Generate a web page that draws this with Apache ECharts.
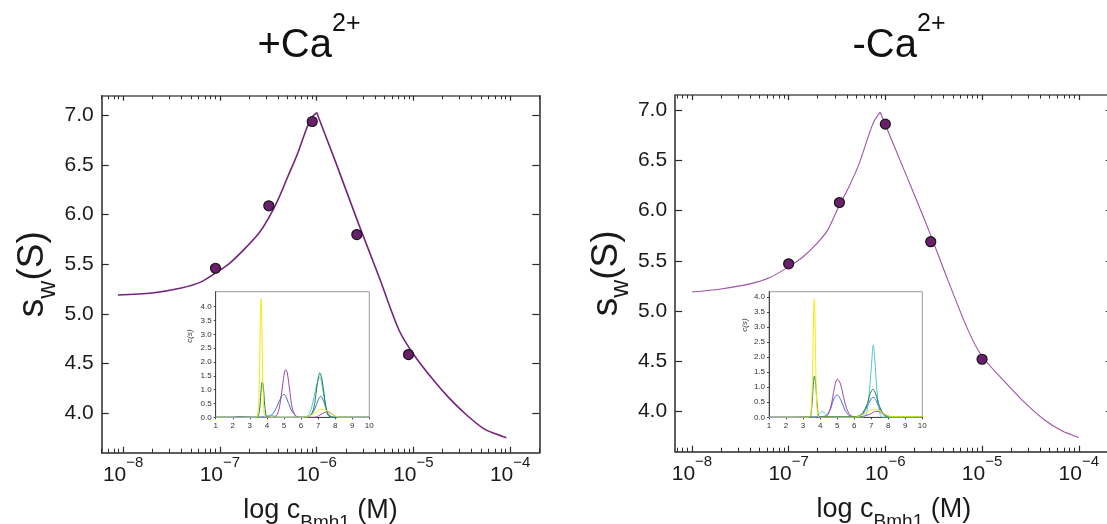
<!DOCTYPE html>
<html><head><meta charset="utf-8">
<script src="https://cdn.jsdelivr.net/npm/echarts@6/dist/echarts.min.js"></script>
<style>html,body{margin:0;padding:0;background:#fff}#c{width:1107px;height:524px}</style>
</head><body><div id="c"></div>
<script>
// ---------- DATA ----------
const panelTitles = ['+Ca', '-Ca'];
const titleSup = '2+';
const xTickExponents = [-8, -7, -6, -5, -4];
const yTickValues = [4.0, 4.5, 5.0, 5.5, 6.0, 6.5, 7.0];
const insetXTicks = [1, 2, 3, 4, 5, 6, 7, 8, 9, 10];
const insetYTicksL = [0, 0.5, 1.0, 1.5, 2.0, 2.5, 3.0, 3.5, 4.0];
const insetYTicksR = [0, 0.5, 1.0, 1.5, 2.0, 2.5, 3.0, 3.5, 4.0];

// measured points (concentration in M, sedimentation coefficient s_w in S)
const concPlusCa = [9.0e-8, 3.2e-7, 9.0e-7, 2.6e-6, 8.9e-6];
const swPlusCa   = [5.46, 6.09, 6.94, 5.80, 4.59];
const concMinusCa = [1.0e-7, 3.35e-7, 1.0e-6, 2.95e-6, 1.0e-5];
const swMinusCa   = [5.47, 6.08, 6.86, 5.69, 4.52];

// fitted curves (log10 concentration, s_w): rising branch and falling branch
const fitRiseLogPlusCa = [-8.055, -7.7, -7.4, -7.2, -7.05, -6.9, -6.75, -6.6, -6.5, -6.4, -6.3, -6.2, -6.1, -6.05, -6.0];
const fitRiseSwPlusCa  = [5.19, 5.21, 5.26, 5.32, 5.41, 5.51, 5.65, 5.81, 5.96, 6.15, 6.38, 6.61, 6.88, 6.98, 7.03];
const fitFallLogPlusCa = [-6.0, -5.8, -5.56, -5.35, -5.146, -4.99, -4.8, -4.63, -4.45, -4.27, -4.15, -4.04];
const fitFallSwPlusCa  = [7.03, 6.52, 5.89, 5.36, 4.83, 4.58, 4.34, 4.15, 3.98, 3.84, 3.79, 3.75];
const fitRiseLogMinusCa = [-8.0, -7.7, -7.4, -7.2, -7.0, -6.85, -6.72, -6.6, -6.486, -6.37, -6.27, -6.126, -6.054];
const fitRiseSwMinusCa  = [5.19, 5.22, 5.27, 5.33, 5.44, 5.54, 5.66, 5.80, 6.03, 6.25, 6.47, 6.87, 6.98];
const fitFallLogMinusCa = [-6.054, -5.8, -5.57, -5.35, -5.14, -5.0, -4.74, -4.55, -4.36, -4.18, -4.0];
const fitFallSwMinusCa  = [6.98, 6.39, 5.85, 5.30, 4.80, 4.55, 4.27, 4.08, 3.92, 3.81, 3.74];

// inset c(s) distributions, [s, c(s)]
const csPlusYellow = [[1,0],[3.3,0],[3.45,0.05],[3.55,1.2],[3.62,3.6],[3.66,4.28],[3.7,3.5],[3.77,1.0],[3.85,0.1],[3.95,0],[6.2,0],[6.6,0.08],[6.9,0.2],[7.2,0.29],[7.45,0.26],[7.7,0.15],[8.0,0.05],[8.3,0],[10,0]];
const csPlusGreen = [[1,0],[3.4,0],[3.55,0.2],[3.65,0.9],[3.72,1.27],[3.78,1.2],[3.85,0.6],[3.95,0.05],[4.05,0],[6.3,0],[6.6,0.1],[6.8,0.5],[6.95,1.2],[7.1,1.6],[7.25,1.3],[7.4,0.6],[7.55,0.15],[7.7,0.02],[8,0],[10,0]];
const csPlusPurple = [[1,0],[4.3,0],[4.6,0.1],[4.8,0.6],[4.95,1.3],[5.1,1.72],[5.2,1.6],[5.35,0.9],[5.5,0.3],[5.7,0.03],[5.9,0],[6.8,0],[7.1,0.08],[7.4,0.18],[7.6,0.2],[7.85,0.1],[8.2,0],[10,0]];
const csPlusBlue = [[1,0],[2.0,0],[2.3,0.03],[2.8,0.02],[3.2,0],[4.0,0.02],[4.3,0.1],[4.6,0.4],[4.85,0.75],[5.0,0.83],[5.15,0.7],[5.4,0.3],[5.7,0.05],[6.0,0],[6.5,0.05],[6.8,0.3],[7.0,0.62],[7.15,0.76],[7.3,0.62],[7.5,0.25],[7.7,0.05],[8,0],[10,0]];
const csPlusCyan = [[1,0],[3.8,0],[4.05,0.06],[4.3,0.07],[4.5,0.02],[4.8,0],[6.2,0],[6.5,0.15],[6.75,0.7],[6.95,1.25],[7.1,1.45],[7.25,1.1],[7.45,0.35],[7.6,0.05],[7.8,0],[10,0]];

const csMinusYellow = [[1,0],[3.3,0],[3.45,0.1],[3.55,1.4],[3.62,3.5],[3.66,3.92],[3.7,3.2],[3.78,0.8],[3.87,0.05],[4,0],[6.0,0],[6.5,0.08],[6.9,0.22],[7.2,0.27],[7.5,0.22],[7.8,0.1],[8.2,0.02],[10,0.02]];
const csMinusGreen = [[1,0],[3.35,0],[3.5,0.3],[3.6,1.1],[3.67,1.37],[3.75,1.05],[3.85,0.3],[4.0,0.02],[5.8,0.02],[6.3,0.05],[6.7,0.35],[6.95,0.8],[7.1,0.93],[7.25,0.8],[7.5,0.35],[7.8,0.08],[8.2,0.02],[10,0.02]];
const csMinusPurple = [[1,0],[2.5,0],[3,0.01],[4.3,0.02],[4.6,0.3],[4.85,1.0],[5.02,1.27],[5.2,1.1],[5.45,0.5],[5.7,0.12],[6.0,0.02],[6.5,0.03],[6.9,0.1],[7.3,0.2],[7.6,0.17],[7.9,0.07],[8.3,0],[10,0]];
const csMinusBlue = [[1,0],[3.8,0],[4.2,0.02],[4.55,0.2],[4.8,0.6],[5.0,0.74],[5.2,0.6],[5.45,0.25],[5.7,0.06],[6.0,0.02],[6.4,0.05],[6.75,0.35],[7.0,0.62],[7.12,0.66],[7.3,0.55],[7.55,0.2],[7.8,0.04],[8.1,0],[10,0]];
const csMinusCyan = [[1,0],[3.7,0],[3.95,0.1],[4.12,0.2],[4.3,0.12],[4.5,0.02],[6.5,0],[6.75,0.2],[6.9,0.9],[7.05,2.0],[7.12,2.4],[7.2,2.0],[7.35,0.8],[7.5,0.15],[7.65,0],[10,0]];

// ---------- BUILD ----------
const FONT = 'Liberation Sans, Arial, sans-serif';
const AX = '#2a2a2a';
const minorTicks = [];
for (let n = -9; n <= -4; n++) for (let k = 2; k <= 9; k++) minorTicks.push(n + Math.log10(k));

const panels = [
  {grid: {left: 101.7, top: 95.7, width: 437.6, height: 357}, xmin: Math.log10(6e-9), xmax: Math.log10(2e-4),
   ymin: 3.6, ymax: 7.2, conc: concPlusCa, sw: swPlusCa,
   fits: [[fitRiseLogPlusCa, fitRiseSwPlusCa], [fitFallLogPlusCa, fitFallSwPlusCa]],
   lineColor: '#74247a', lineWidth: 1.6, title: panelTitles[0], titleX: 304},
  {grid: {left: 675.1, top: 95, width: 437.6, height: 356.7}, xmin: -8.174, xmax: -3.649,
   ymin: 3.6, ymax: 7.15, conc: concMinusCa, sw: swMinusCa,
   fits: [[fitRiseLogMinusCa, fitRiseSwMinusCa], [fitFallLogMinusCa, fitFallSwMinusCa]],
   lineColor: '#a052a6', lineWidth: 1.1, title: panelTitles[1], titleX: 894}
];
const insets = [
  {grid: {left: 215.7, top: 291.7, width: 153.6, height: 125.6}, ymax: 4.54, yticks: insetYTicksL,
   curves: [csPlusBlue, csPlusPurple, csPlusCyan, csPlusGreen, csPlusYellow], nameX: 190, nameY: 336},
  {grid: {left: 769, top: 291.7, width: 153.3, height: 125.6}, ymax: 4.17, yticks: insetYTicksR,
   curves: [csMinusBlue, csMinusPurple, csMinusCyan, csMinusGreen, csMinusYellow], nameX: 745, nameY: 325}
];
const insetColors = ['#3f72cf', '#9a48a8', '#52c4d8', '#1f8050', '#f0ec10'];

const grid = [], xAxis = [], yAxis = [], series = [], title = [], graphic = [];
function expLabel(v) {
  const n = Math.round(v);
  return '{b|10}{s|' + String(n).replace('-', '−') + '}';
}

panels.forEach((p, i) => {
  const gi = grid.length;
  grid.push(Object.assign({containLabel: false, outerBoundsMode: 'none'}, p.grid));
  const base = {type: 'value', gridIndex: gi, min: p.xmin, max: p.xmax, splitLine: {show: false}};
  const xi = xAxis.length;
  xAxis.push(Object.assign({}, base, {position: 'bottom',
    axisLine: {show: true, lineStyle: {color: AX, width: 1.5}},
    axisTick: {show: true, inside: true, length: 6, customValues: xTickExponents, lineStyle: {color: AX, width: 1.2}},
    axisLabel: {show: true, customValues: xTickExponents, margin: 3, formatter: expLabel,
      rich: {b: {fontFamily: FONT, fontSize: 21, color: '#1a1a1a', lineHeight: 30, verticalAlign: 'bottom'},
             s: {fontFamily: FONT, fontSize: 15, color: '#1a1a1a', lineHeight: 15, verticalAlign: 'top'}}},
    name: '{a|log c}{b|Bmh1}{a| (M)}', nameLocation: 'middle', nameGap: 44,
    nameTextStyle: {rich: {a: {fontFamily: FONT, fontSize: 27, color: '#1a1a1a', lineHeight: 36, verticalAlign: 'top'},
                           b: {fontFamily: FONT, fontSize: 19, color: '#1a1a1a', lineHeight: 19, verticalAlign: 'bottom'}}}
  }));
  xAxis.push(Object.assign({}, base, {position: 'bottom', axisLine: {show: false},
    axisTick: {show: true, inside: true, length: 4, customValues: minorTicks, lineStyle: {color: AX, width: 1}},
    axisLabel: {show: false}}));
  xAxis.push(Object.assign({}, base, {position: 'top',
    axisLine: {show: true, lineStyle: {color: '#555', width: 1.5}},
    axisTick: {show: true, inside: true, length: 5, customValues: xTickExponents, lineStyle: {color: AX, width: 1.2}},
    axisLabel: {show: false}}));
  xAxis.push(Object.assign({}, base, {position: 'top', axisLine: {show: false},
    axisTick: {show: true, inside: true, length: 3.5, customValues: minorTicks, lineStyle: {color: AX, width: 1}},
    axisLabel: {show: false}}));
  const yi = yAxis.length;
  yAxis.push({type: 'value', gridIndex: gi, min: p.ymin, max: p.ymax, position: 'left', splitLine: {show: false},
    axisLine: {show: true, lineStyle: {color: AX, width: 1.5}},
    axisTick: {show: true, inside: true, length: 7, customValues: yTickValues, lineStyle: {color: AX, width: 1.2}},
    axisLabel: {show: true, customValues: yTickValues, margin: 8, fontFamily: FONT, fontSize: 21, color: '#1a1a1a',
      formatter: v => v.toFixed(1)},
    name: '{a|s}{b|w}{a|(S)}', nameLocation: 'middle', nameGap: 39, nameRotate: 90,
    nameTextStyle: {rich: {a: {fontFamily: FONT, fontSize: 37, color: '#1a1a1a', lineHeight: 46, verticalAlign: 'top'},
                           b: {fontFamily: FONT, fontSize: 25, color: '#1a1a1a', lineHeight: 25, verticalAlign: 'bottom'}}}
  });
  yAxis.push({type: 'value', gridIndex: gi, min: p.ymin, max: p.ymax, position: 'right', splitLine: {show: false},
    axisLine: {show: true, lineStyle: {color: AX, width: 1.5}},
    axisTick: {show: true, inside: true, length: 7, customValues: yTickValues, lineStyle: {color: AX, width: 1.2}},
    axisLabel: {show: false}});
  p.fits.forEach(f => {
    series.push({type: 'line', xAxisIndex: xi, yAxisIndex: yi, data: f[0].map((x, k) => [x, f[1][k]]),
      showSymbol: false, smooth: 0.3, lineStyle: {color: p.lineColor, width: p.lineWidth}, z: 3, silent: true});
  });
  series.push({type: 'scatter', xAxisIndex: xi, yAxisIndex: yi, data: p.conc.map((c, k) => [Math.log10(c), p.sw[k]]),
    symbolSize: 10, itemStyle: {color: '#6a1f6c', borderColor: '#151515', borderWidth: 1.2, opacity: 1}, z: 5});
  title.push({text: '{m|' + p.title + '}{s|' + titleSup + '}', left: p.titleX, top: 7, textAlign: 'center',
    textStyle: {fontWeight: 'normal', rich: {
      m: {fontFamily: FONT, fontSize: 40, fontWeight: 'normal', color: '#111', lineHeight: 54, verticalAlign: 'bottom'},
      s: {fontFamily: FONT, fontSize: 25, fontWeight: 'normal', color: '#111', lineHeight: 26, verticalAlign: 'top'}}}});
});

insets.forEach((ins, i) => {
  const gi = grid.length;
  grid.push(Object.assign({show: true, backgroundColor: '#fff', borderColor: '#9a9a9a', borderWidth: 1, z: 10,
    containLabel: false, outerBoundsMode: 'none'}, ins.grid));
  const xi = xAxis.length;
  xAxis.push({type: 'value', gridIndex: gi, min: 1, max: 10, interval: 1, z: 11, splitLine: {show: false},
    axisLine: {show: true, lineStyle: {color: '#444', width: 1}},
    axisTick: {show: true, length: 2, lineStyle: {color: '#444'}},
    axisLabel: {show: true, fontFamily: FONT, fontSize: 8, color: '#333', margin: 4}});
  const yi = yAxis.length;
  yAxis.push({type: 'value', gridIndex: gi, min: 0, max: ins.ymax, z: 11, splitLine: {show: false},
    axisLine: {show: true, lineStyle: {color: '#444', width: 1}},
    axisTick: {show: true, length: 2, customValues: ins.yticks, lineStyle: {color: '#444'}},
    axisLabel: {show: true, customValues: ins.yticks, fontFamily: FONT, fontSize: 8, color: '#333', margin: 4,
      formatter: v => v.toFixed(1)}});
  graphic.push({type: 'text', x: ins.nameX, y: ins.nameY, rotation: Math.PI / 2, z: 20,
    style: {text: 'c(s)', fontFamily: FONT, fontSize: 8, fontStyle: 'italic', fill: '#333',
      align: 'center', verticalAlign: 'middle'}});
  ins.curves.forEach((c, k) => {
    series.push({type: 'line', xAxisIndex: xi, yAxisIndex: yi, data: c, showSymbol: false, smooth: 0.35,
      lineStyle: {color: insetColors[k], width: 1}, z: 12, silent: true, clip: true});
  });
});

const chart = echarts.init(document.getElementById('c'), null, {renderer: 'canvas'});
chart.setOption({animation: false, backgroundColor: '#fff', title, grid, xAxis, yAxis, series, graphic});
</script></body></html>
